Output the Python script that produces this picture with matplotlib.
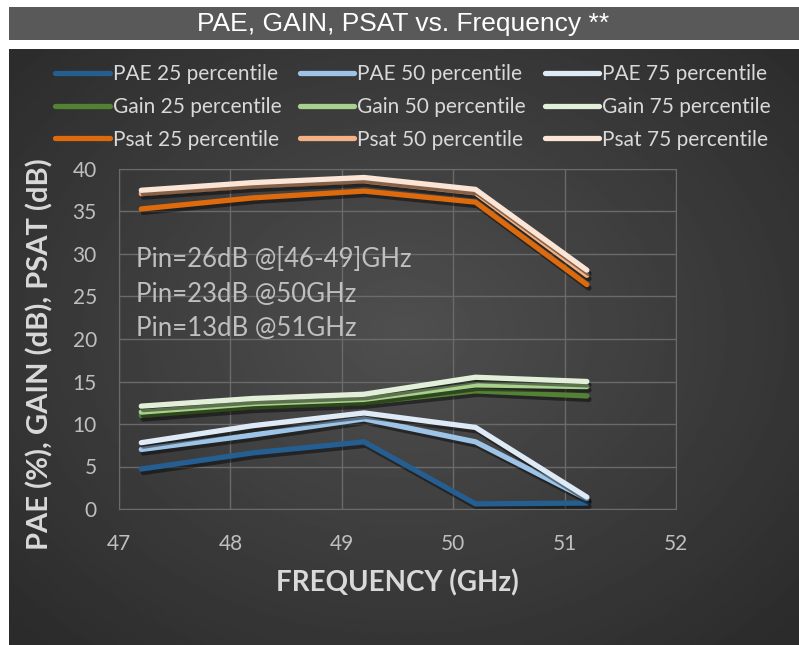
import numpy as np
import matplotlib
matplotlib.use("Agg")
import matplotlib.pyplot as plt
import matplotlib.patheffects as pe
from matplotlib.patches import Rectangle

# frequency points (GHz)
freq = [47.2, 48.2, 49.2, 50.2, 51.2]

pae_25 = [4.7, 6.6, 7.9, 0.6, 0.7]
pae_50 = [7.0, 8.7, 10.6, 7.9, 1.2]
pae_75 = [7.8, 9.8, 11.3, 9.6, 1.4]
gain_25 = [11.0, 12.0, 12.5, 13.9, 13.3]
gain_50 = [11.4, 12.4, 12.9, 14.6, 14.4]
gain_75 = [12.1, 13.0, 13.5, 15.5, 15.0]
psat_25 = [35.3, 36.6, 37.4, 36.1, 26.4]
psat_50 = [37.1, 38.0, 38.6, 37.2, 27.5]
psat_75 = [37.5, 38.4, 39.0, 37.6, 28.1]

series = [
    ("PAE 25 percentile", pae_25, "#255e91"),
    ("PAE 50 percentile", pae_50, "#9dc3e6"),
    ("PAE 75 percentile", pae_75, "#deebf7"),
    ("Gain 25 percentile", gain_25, "#548235"),
    ("Gain 50 percentile", gain_50, "#a9d18e"),
    ("Gain 75 percentile", gain_75, "#e2f0d9"),
    ("Psat 25 percentile", psat_25, "#dd6a0c"),
    ("Psat 50 percentile", psat_50, "#f4b183"),
    ("Psat 75 percentile", psat_75, "#fbe5d6"),
]

notes = ["Pin=26dB @[46-49]GHz", "Pin=23dB @50GHz", "Pin=13dB @51GHz"]

plt.rcParams['font.family'] = ['Lato', 'DejaVu Sans']

W, H = 799, 645
fig = plt.figure(figsize=(W / 100, H / 100), dpi=100)
fig.patch.set_facecolor("white")

# title bar
fig.patches.append(Rectangle((9 / W, 1 - 40 / H), 1 - 9 / W, 33 / H,
                             transform=fig.transFigure, facecolor="#595959",
                             edgecolor="none", zorder=0))
fig.text(0.5 + 4 / W, 1 - 24 / H, "PAE, GAIN, PSAT vs. Frequency **",
         ha="center", va="center", color="white", fontsize=19,
         family=["Liberation Sans Narrow", "Liberation Sans", "DejaVu Sans"])

# dark radial gradient background
bg = fig.add_axes([9 / W, 0, 1 - 9 / W, 1 - 49 / H], zorder=0)
gx, gy = np.meshgrid(np.linspace(-1, 1, 400), np.linspace(-1, 1, 300))
r = np.sqrt((gx * 0.95) ** 2 + (gy * 0.9 + 0.05) ** 2)
shade = 0.31 - 0.14 * np.clip(r, 0, 1.3) / 1.3
bg.imshow(shade, cmap="gray", vmin=0, vmax=1, aspect="auto",
          extent=[0, 1, 0, 1], interpolation="bilinear")
bg.axis("off")

ax = fig.add_axes([119 / W, 1 - 509 / H, (676 - 119) / W, (509 - 169) / H], zorder=1)
ax.set_facecolor("none")

shadow = [pe.SimpleLineShadow(offset=(1.5, -2.5), shadow_color="black", alpha=0.45),
          pe.Normal()]
handles = []
for name, vals, col in series:
    ln, = ax.plot(freq, vals, color=col, lw=3.8, solid_capstyle="round",
                  solid_joinstyle="miter", label=name, path_effects=shadow)
    handles.append(ln)

ax.set_xlim(47, 52)
ax.set_ylim(0, 40)
ax.set_xticks(np.arange(47, 53, 1))
ax.set_yticks(np.arange(0, 41, 5))
ax.grid(True, color="#6a6a6a", lw=1)
for s in ax.spines.values():
    s.set_color("#6a6a6a")
ax.tick_params(length=0, colors="#bfbfbf", labelsize=15)
ax.tick_params(axis="x", pad=18)
ax.tick_params(axis="y", pad=16)

ax.set_xlabel("FREQUENCY (GHz)", color="#d9d9d9", fontsize=20,
              fontweight="bold")
ax.xaxis.set_label_coords(0.5, -(583 - 509) / 340, transform=ax.transAxes)
ax.xaxis.label.set_va("center")
ax.set_ylabel("PAE (%), GAIN (dB), PSAT (dB)", color="#d9d9d9", fontsize=21,
              fontweight="bold")
ax.yaxis.set_label_coords((40 - 119) / 557, (509 - 354) / 340)
ax.yaxis.label.set_va("center")

for i, t in enumerate(notes):
    ax.text(47.15, 29.3 - i * 4.05, t, color="#bfbfbf", fontsize=18.5,
            va="center", ha="left")

# legend laid out row by row (3 columns)
order = [0, 3, 6, 1, 4, 7, 2, 5, 8]
leg = fig.legend([handles[i] for i in order],
                 [series[i][0] for i in order],
                 ncol=3, loc="center", bbox_to_anchor=(413 / W, 1 - 107 / H),
                 frameon=False, fontsize=15, handlelength=2.6,
                 handletextpad=0.15, columnspacing=0.9, labelspacing=0.6)
for txt in leg.get_texts():
    txt.set_color("#d9d9d9")
for lh in leg.get_lines():
    lh.set_linewidth(3.8)
    lh.set_path_effects([])

fig.savefig("out.png", dpi=100, facecolor=fig.get_facecolor())
